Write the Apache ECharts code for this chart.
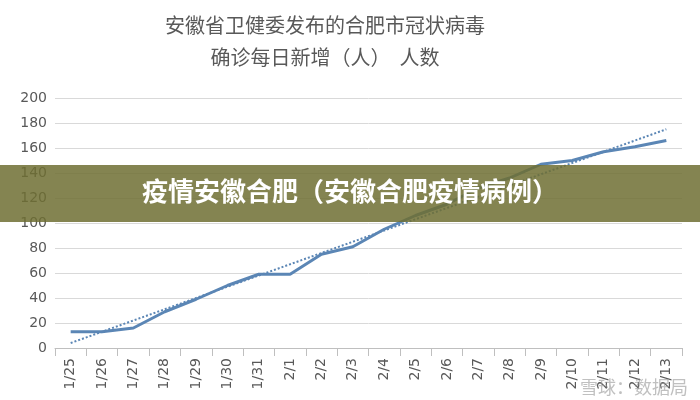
<!DOCTYPE html>
<html>
<head>
<meta charset="utf-8">
<script src="https://cdn.jsdelivr.net/npm/echarts@6/dist/echarts.min.js"></script>
<style>
  html, body { margin: 0; padding: 0; background: #fff; }
  #chart { width: 700px; height: 400px; }
</style>
</head>
<body>
<div id="chart"></div>
<script>
const days = ['1/25', '1/26', '1/27', '1/28', '1/29', '1/30', '1/31', '2/1', '2/2', '2/3',
  '2/4', '2/5', '2/6', '2/7', '2/8', '2/9', '2/10', '2/11', '2/12', '2/13']
const cases = [13, 13, 16, 29, 39, 50, 59, 59, 75, 81, 95, 106, 115, 128, 136, 147, 150, 157, 161, 166]
// trend line end points
const trendStart = 4
const trendEnd = 175

const chart = echarts.init(document.getElementById('chart'))
const font = '"Microsoft YaHei", "Noto Sans CJK SC", sans-serif'

chart.setOption({
  animation: false,
  title: {
    text: '安徽省卫健委发布的合肥市冠状病毒\n确诊每日新增（人）  人数',
    left: 320,
    top: 4,
    textAlign: 'center',
    textStyle: { color: '#595959', fontSize: 20, fontWeight: 'normal', fontFamily: font, lineHeight: 32 }
  },
  grid: { left: 55, right: 18, top: 98, bottom: 52 },
  xAxis: {
    type: 'category',
    data: days,
    axisLine: { lineStyle: { color: '#bfbfbf' } },
    axisTick: { show: true, interval: 0, length: 8, lineStyle: { color: '#bfbfbf' } },
    axisLabel: { rotate: 90, interval: 0, margin: 10, color: '#595959', fontSize: 14, fontFamily: 'DejaVu Sans' }
  },
  yAxis: {
    type: 'value',
    min: 0,
    max: 200,
    interval: 20,
    axisLine: { show: false },
    axisTick: { show: false },
    axisLabel: { color: '#595959', fontSize: 14, fontFamily: 'DejaVu Sans' },
    splitLine: { lineStyle: { color: '#d9d9d9' } }
  },
  series: [{
    type: 'line',
    data: cases,
    symbol: 'circle',
    symbolSize: 1,
    showSymbol: true,
    itemStyle: { opacity: 0 },
    lineStyle: { color: '#5b86b5', width: 3 },
    label: { show: true, position: 'top', distance: 10, color: '#404040', fontSize: 14, fontFamily: 'DejaVu Sans' },
    labelLayout: { hideOverlap: false },
    markLine: {
      silent: true,
      symbol: 'none',
      label: { show: false },
      lineStyle: { type: 'dotted', color: '#5b86b5', width: 2 },
      data: [[{ coord: [days[0], trendStart] }, { coord: [days[days.length - 1], trendEnd] }]]
    }
  }],
  graphic: [
    {
      type: 'rect',
      shape: { x: 0, y: 165, width: 700, height: 57 },
      style: { fill: 'rgba(110,110,50,0.85)' },
      z: 100
    },
    {
      type: 'text',
      left: 'center',
      top: 178,
      style: { text: '疫情安徽合肥（安徽合肥疫情病例）', fill: '#fff', fontSize: 26, fontWeight: 'bold', fontFamily: font },
      z: 101
    },
    {
      type: 'text',
      right: 12,
      bottom: 4,
      style: { text: '雪球：数据局', fill: 'rgba(150,150,150,0.6)', fontSize: 18, fontFamily: font },
      z: 101
    }
  ]
})
</script>
</body>
</html>
